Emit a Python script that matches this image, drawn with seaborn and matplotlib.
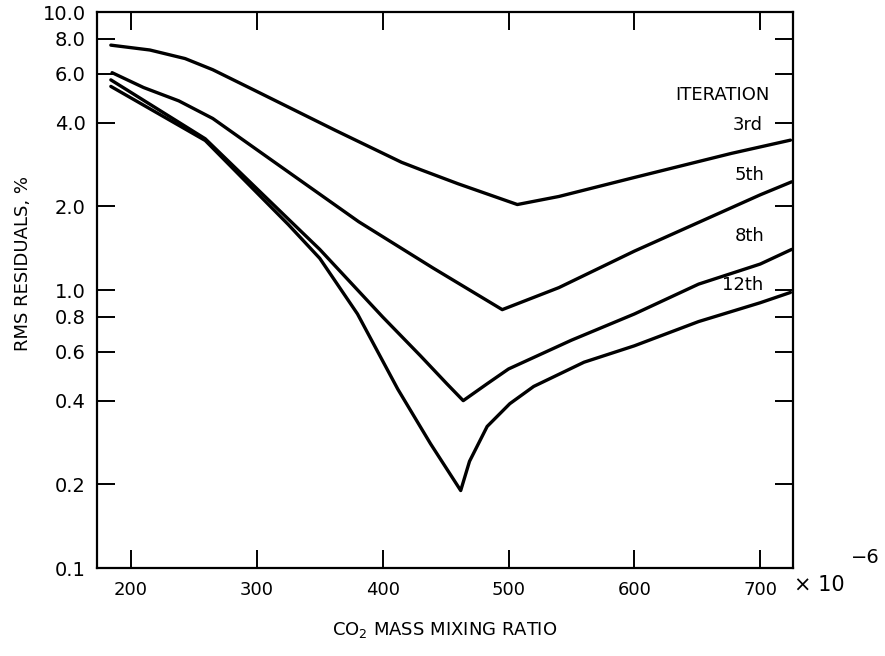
import numpy as np
import pandas as pd
import seaborn as sns
import matplotlib
matplotlib.use("Agg")
import matplotlib.pyplot as plt
from matplotlib.ticker import FixedLocator, FixedFormatter, NullLocator

# ---- data ----
x_3rd = [184, 215, 243, 265, 297, 362, 415, 431, 460, 507, 540, 600, 677, 724]
y_3rd = [7.6, 7.3, 6.8, 6.2, 5.26, 3.76, 2.88, 2.70, 2.41, 2.03, 2.17, 2.54, 3.10, 3.46]

x_5th = [185, 210, 238, 265, 310, 381, 440, 495, 540, 600, 700, 725]
y_5th = [6.05, 5.35, 4.79, 4.14, 2.97, 1.76, 1.2, 0.85, 1.02, 1.38, 2.2, 2.45]

x_8th = [184, 259, 325, 350, 400, 430, 451, 464, 483, 500, 550, 600, 651, 700, 725]
y_8th = [5.7, 3.5, 1.8, 1.4, 0.8, 0.58, 0.46, 0.40, 0.46, 0.52, 0.66, 0.82, 1.05, 1.24, 1.40]

x_12th = [184, 259, 325, 350, 380, 412, 438, 462, 469, 483, 501, 520, 560, 600, 651, 700, 724]
y_12th = [5.4, 3.45, 1.72, 1.3, 0.82, 0.44, 0.28, 0.19, 0.242, 0.323, 0.39, 0.45, 0.55, 0.63, 0.77, 0.90, 0.98]

iterations = ["3rd", "5th", "8th", "12th"]
x_ticks = [200, 300, 400, 500, 600, 700]
y_ticks = [0.1, 0.2, 0.4, 0.6, 0.8, 1.0, 2.0, 4.0, 6.0, 8.0, 10.0]
y_tick_labels = ["0.1", "0.2", "0.4", "0.6", "0.8", "1.0", "2.0", "4.0", "6.0", "8.0", "10.0"]

frames = []
for name, xs, ys in zip(iterations, [x_3rd, x_5th, x_8th, x_12th], [y_3rd, y_5th, y_8th, y_12th]):
    frames.append(pd.DataFrame({"ratio": xs, "rms": ys, "iteration": name}))
df = pd.concat(frames, ignore_index=True)

sns.set_theme(style="white")
plt.rcParams["font.family"] = ["DejaVu Sans"]
plt.rcParams["text.color"] = "black"
plt.rcParams["axes.labelcolor"] = "black"

fig = plt.figure(figsize=(8.85, 6.56), dpi=100)
ax = fig.add_axes([0.1096, 0.1341, 0.896 - 0.1096, 0.9817 - 0.1341])

sns.lineplot(data=df, x="ratio", y="rms", hue="iteration", hue_order=iterations,
             palette=["black"] * 4, linewidth=2.4, legend=False, ax=ax,
             estimator=None, sort=False)

ax.set_yscale("log")
ax.set_xlim(173, 726)
ax.set_ylim(0.1, 10.0)
ax.yaxis.set_major_locator(FixedLocator(y_ticks))
ax.yaxis.set_major_formatter(FixedFormatter(y_tick_labels))
ax.yaxis.set_minor_locator(NullLocator())
ax.xaxis.set_major_locator(FixedLocator(x_ticks))
ax.set_xticklabels([str(v) for v in x_ticks])

for s in ax.spines.values():
    s.set_color("black")
    s.set_linewidth(1.6)
ax.tick_params(axis="both", which="major", direction="in", length=13, width=1.4,
               color="black", left=True, bottom=True, top=True, right=True,
               labelcolor="black")
ax.tick_params(axis="y", labelsize=14, pad=8)
ax.tick_params(axis="x", labelsize=13, pad=9)
ax.set_xlabel("")
ax.set_ylabel("")

# annotations
fig.text(0.870, 0.855, "ITERATION", ha="right", va="center", fontsize=13)
fig.text(0.862, 0.809, "3rd", ha="right", va="center", fontsize=13)
fig.text(0.864, 0.733, "5th", ha="right", va="center", fontsize=13)
fig.text(0.864, 0.640, "8th", ha="right", va="center", fontsize=13)
fig.text(0.862, 0.566, "12th", ha="right", va="center", fontsize=13)

fig.text(0.026, 0.598, "RMS RESIDUALS, %", rotation=90, ha="center", va="center", fontsize=13)
fig.text(0.503, 0.040, "CO$_2$ MASS MIXING RATIO", ha="center", va="center", fontsize=13)
fig.text(0.897, 0.108, "\u00d7 10", ha="left", va="center", fontsize=15)
fig.text(0.962, 0.150, "\u22126", ha="left", va="center", fontsize=14)

fig.savefig("out.png", dpi=100)
